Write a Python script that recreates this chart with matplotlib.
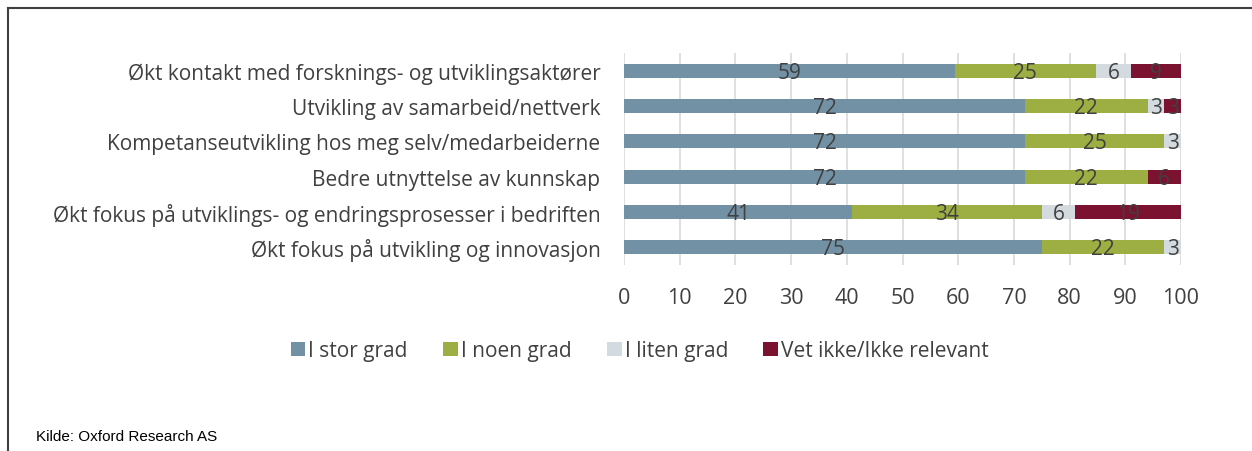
import matplotlib.pyplot as plt
from matplotlib.lines import Line2D
import numpy as np

categories = [
    "Økt kontakt med forsknings- og utviklingsaktører",
    "Utvikling av samarbeid/nettverk",
    "Kompetanseutvikling hos meg selv/medarbeiderne",
    "Bedre utnyttelse av kunnskap",
    "Økt fokus på utviklings- og endringsprosesser i bedriften",
    "Økt fokus på utvikling og innovasjon",
]
stor = [59.4, 72, 72, 72, 41, 75]
noen = [25.3, 22, 25, 22, 34, 22]
liten = [6.3, 3, 3, 0, 6, 3]
vet_ikke = [9.0, 3, 0, 6, 19, 0]

series = ["I stor grad", "I noen grad", "I liten grad", "Vet ikke/Ikke relevant"]
colors = ["#7391a5", "#9daf42", "#d3dae0", "#7b1230"]
txt = "#404040"

plt.rcParams['font.family'] = ['Open Sans', 'DejaVu Sans']

fig = plt.figure(figsize=(12.52, 4.52), dpi=100)
ax = fig.add_axes([0.4984, 0.4115, 0.4449, 0.469])

y = np.arange(len(categories))
left = np.zeros(len(categories))
for vals, name, col in zip([stor, noen, liten, vet_ikke], series, colors):
    vals = np.array(vals)
    bars = ax.barh(y, vals, left=left, height=0.4, color=col, label=name, zorder=3)
    for b, v in zip(bars, vals):
        if v > 0:
            ax.text(b.get_x() + b.get_width() / 2, b.get_y() + b.get_height() / 2 + 0.04,
                    "{:.0f}".format(v), ha='center', va='center', fontsize=15,
                    color=txt, zorder=4)
    left += vals

ax.set_xlim(0, 100)
ax.set_ylim(len(categories) - 0.5, -0.5)
ax.set_xticks(range(0, 101, 10))
ax.set_yticks(y)
ax.set_yticklabels(categories)
ax.tick_params(axis='y', length=0, pad=17, labelsize=15, labelcolor=txt)
ax.tick_params(axis='x', length=0, pad=16, labelsize=15.5, labelcolor=txt)
ax.grid(axis='x', color='#d9d9d9', linewidth=1.2, zorder=0)
for s in ax.spines.values():
    s.set_visible(False)

ax.legend(loc='center', bbox_to_anchor=(0.511, 0.222), bbox_transform=fig.transFigure,
          ncol=4, frameon=False, fontsize=15, handlelength=0.7, handleheight=0.7,
          handletextpad=0.15, columnspacing=1.7, labelcolor=txt)

fig.text(0.029, 0.033, "Kilde: Oxford Research AS", fontsize=11, va='center',
         family='Liberation Sans', color='black')

fig.add_artist(Line2D([0.0066, 1.0], [0.981, 0.981], transform=fig.transFigure,
                      color='#404040', linewidth=1.5))
fig.add_artist(Line2D([0.0066, 0.0066], [0.0, 0.981], transform=fig.transFigure,
                      color='#404040', linewidth=1.5))

fig.savefig("out.png", dpi=100)
